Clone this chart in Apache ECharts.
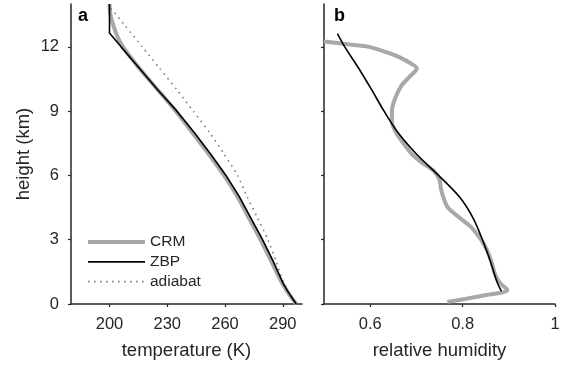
<!DOCTYPE html>
<html>
<head>
<meta charset="utf-8">
<script src="https://cdn.jsdelivr.net/npm/echarts@6/dist/echarts.min.js"></script>
<style>html,body{margin:0;padding:0;background:#fff}#c{width:567px;height:365px}</style>
</head>
<body>
<div id="c"></div>
<script>
// ---- data (panel a: temperature profiles) ----
const crmTempH = [14, 13.5, 13, 12.5, 12, 11, 10, 9, 8, 7, 6, 5, 4, 3, 2, 1, 0.5, 0];
const crmTemp  = [200, 200.5, 202, 204, 207, 215.5, 225, 234.5, 243, 251.5, 259.5, 266.5, 272.5, 278.5, 284, 289.5, 293, 297];
const zbpTempH = [14, 12.65, 12, 11, 10, 9, 8, 7, 6, 5, 4, 3, 2, 1, 0.6, 0];
const zbpTemp  = [200, 200, 206, 215.5, 225, 235, 244, 252.5, 260.5, 267.5, 273.5, 279.5, 285, 290, 292.5, 297];
const adiabatH = [13.8, 13, 12, 11, 10, 9, 8, 7, 6, 5, 4, 3, 2, 1, 0];
const adiabatT = [200.7, 208, 217, 226, 235, 243.5, 252, 259.5, 266.5, 271.5, 277, 282.3, 286.5, 290.5, 297];
// ---- data (panel b: relative humidity profiles) ----
const crmRhH = [12.25, 12.1, 12.0, 11.75, 11.5, 11.2, 11.0, 10.6, 10.2, 9.6, 9.0, 8.5, 8.0, 7.5, 7.0, 6.6, 6.2, 5.8, 5.4, 5.0, 4.5, 4.0, 3.6, 3.0, 2.5, 2.0, 1.4, 1.0, 0.65, 0.4, 0.1];
const crmRh  = [0.50, 0.56, 0.598, 0.635, 0.665, 0.690, 0.701, 0.685, 0.668, 0.654, 0.647, 0.647, 0.656, 0.672, 0.690, 0.712, 0.738, 0.750, 0.753, 0.758, 0.768, 0.795, 0.818, 0.840, 0.853, 0.862, 0.870, 0.880, 0.897, 0.845, 0.767];
const zbpRhH = [12.62, 12, 11, 10, 9, 8, 7, 6, 5, 4, 3, 2, 1, 0.6];
const zbpRh  = [0.529, 0.545, 0.575, 0.603, 0.630, 0.660, 0.700, 0.748, 0.793, 0.823, 0.843, 0.860, 0.875, 0.884];
// ---- ticks ----
const tempTicks = [200, 230, 260, 290];
const heightTicks = [0, 3, 6, 9, 12];
const rhTicks = [0.6, 0.8, 1];

const pairs = (xs, ys) => xs.map((x, i) => [x, ys[i]]);
const FONT = 'Liberation Sans, Arial, sans-serif';
const TXT = '#262626';
const GREY = '#a8a8a8';
const DOT = '#808080';

const axisCommon = {
  type: 'value',
  axisLine: { show: true, lineStyle: { color: TXT, width: 1.5 } },
  axisTick: { show: true, inside: false, length: 3, lineStyle: { color: TXT, width: 1.2 } },
  splitLine: { show: false },
  nameTextStyle: { fontFamily: FONT, fontSize: 18.5, color: TXT },
  nameLocation: 'middle'
};

const chart = echarts.init(document.getElementById('c'), null, { renderer: 'canvas' });
chart.setOption({
  animation: false,
  backgroundColor: '#fff',
  title: [
    { text: 'a', left: 78, top: 7, padding: 0, textStyle: { fontFamily: FONT, fontSize: 18, fontWeight: 'bold', color: '#000' } },
    { text: 'b', left: 334, top: 7, padding: 0, textStyle: { fontFamily: FONT, fontSize: 18, fontWeight: 'bold', color: '#000' } }
  ],
  grid: [
    { left: 71, right: 265, top: 4, bottom: 61 },
    { left: 324, right: 12, top: 4, bottom: 61 }
  ],
  xAxis: [
    Object.assign({}, axisCommon, {
      gridIndex: 0, min: 180, max: 300, name: 'temperature (K)', nameGap: 37,
      axisTick: Object.assign({}, axisCommon.axisTick, { customValues: tempTicks }),
      axisLabel: { customValues: tempTicks, fontFamily: FONT, fontSize: 16.5, color: TXT, margin: 12 }
    }),
    Object.assign({}, axisCommon, {
      gridIndex: 1, min: 0.5, max: 1, name: 'relative humidity', nameGap: 37,
      axisTick: Object.assign({}, axisCommon.axisTick, { customValues: rhTicks }),
      axisLabel: { customValues: rhTicks, fontFamily: FONT, fontSize: 16.5, color: TXT, margin: 12 }
    })
  ],
  yAxis: [
    Object.assign({}, axisCommon, {
      gridIndex: 0, min: 0, max: 14, name: 'height (km)', nameGap: 38,
      axisTick: Object.assign({}, axisCommon.axisTick, { customValues: heightTicks }),
      axisLabel: { customValues: heightTicks, fontFamily: FONT, fontSize: 16.5, color: TXT, margin: 12 }
    }),
    Object.assign({}, axisCommon, {
      gridIndex: 1, min: 0, max: 14,
      axisTick: Object.assign({}, axisCommon.axisTick, { customValues: heightTicks }),
      axisLabel: { show: false }
    })
  ],
  legend: {
    orient: 'vertical', left: 81, top: 229, itemWidth: 57, itemHeight: 14, itemGap: 3.8,
    data: [
      { name: 'CRM', lineStyle: { color: GREY, width: 4 } },
      { name: 'ZBP', lineStyle: { color: '#000', width: 1.8 } },
      { name: 'adiabat', lineStyle: { color: DOT, width: 1.6, type: [1.6, 4.4] } }
    ],
    textStyle: { fontFamily: FONT, fontSize: 15.5, color: TXT },
    itemStyle: { opacity: 0 },
    selectedMode: false
  },
  series: [
    { name: 'CRM', type: 'line', xAxisIndex: 0, yAxisIndex: 0, data: pairs(crmTemp, crmTempH), symbol: 'none', smooth: 0.3,
      lineStyle: { color: GREY, width: 4 }, itemStyle: { color: GREY }, z: 2 },
    { name: 'ZBP', type: 'line', xAxisIndex: 0, yAxisIndex: 0, data: pairs(zbpTemp, zbpTempH), symbol: 'none',
      lineStyle: { color: '#000', width: 1.6 }, itemStyle: { color: '#000' }, z: 3 },
    { name: 'adiabat', type: 'line', xAxisIndex: 0, yAxisIndex: 0, data: pairs(adiabatT, adiabatH), symbol: 'none', smooth: 0.2,
      lineStyle: { color: DOT, width: 1.6, type: [1.6, 4.4] }, itemStyle: { color: DOT }, z: 2 },
    { name: 'CRM', type: 'line', xAxisIndex: 1, yAxisIndex: 1, data: pairs(crmRh, crmRhH), symbol: 'none', smooth: 0.3,
      lineStyle: { color: GREY, width: 4 }, itemStyle: { color: GREY }, z: 2 },
    { name: 'ZBP', type: 'line', xAxisIndex: 1, yAxisIndex: 1, data: pairs(zbpRh, zbpRhH), symbol: 'none', smooth: 0.3,
      lineStyle: { color: '#000', width: 1.6 }, itemStyle: { color: '#000' }, z: 3 }
  ]
});
</script>
</body>
</html>
